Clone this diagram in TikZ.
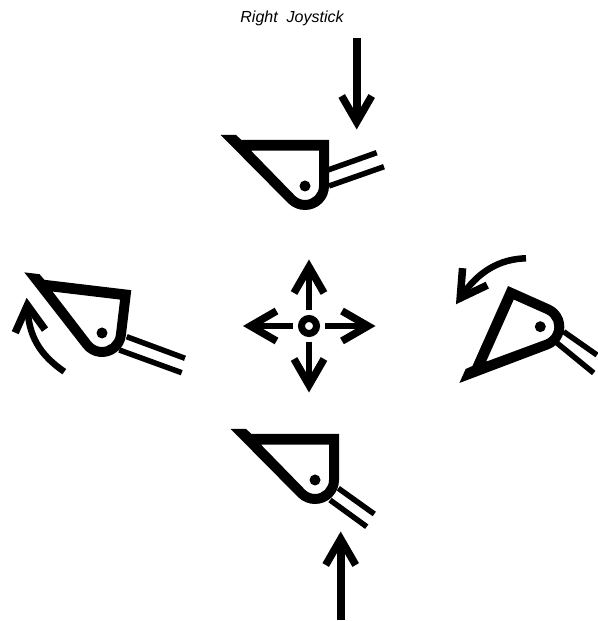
\documentclass[tikz,border=0pt]{standalone}
\usepackage{fontspec}
\setmainfont{Liberation Sans}
\usetikzlibrary{positioning}
\tikzset{
  sticklabel/.style={font=\itshape\fontsize{16}{19}\selectfont, inner sep=0pt},
  pivotdot/.style={circle, fill=black, minimum size=11pt, inner sep=0pt},
  shaft/.style={draw=black, line width=8pt},
  smallshaft/.style={draw=black, line width=6.5pt},
  handlebar/.style={draw=black, line width=5.5pt},
  hubring/.style={circle, draw=black, line width=7pt, minimum size=15pt, inner sep=0pt},
  bucket/.pic={
    \fill[black, even odd rule] (-84.3,51) -- (-69,51) -- (-63.5,46) -- (24,46) -- (24,0)
      arc[start angle=0, end angle=-134.7, radius=24pt] -- cycle
      (-54,35.3) -- (14,35.3) -- (14,0)
      arc[start angle=0, end angle=-135, radius=14pt] -- cycle;
  },
  chevron/.pic={
    \draw[black, line width=7.5pt, miter limit=10] (-26,15) -- (0,0) -- (-26,-15);
  }
}
\begin{document}
\begin{tikzpicture}[x=1pt, y=1pt]
\useasboundingbox (0,0) rectangle (597,621);

\node[sticklabel] (title) at (292,603) {Right\ \ Joystick};

% buckets
\node[pivotdot] (pivottop) at (305,435) {};
\node[pivotdot] (pivotleft) at (102,288) {};
\node[pivotdot] (pivotright) at (540.3,294.3) {};
\node[pivotdot] (pivotbottom) at (315,141) {};
\pic at (pivottop) {bucket};
\pic[rotate=-6.8] at (pivotleft) {bucket};
\pic[rotate=66] at (pivotright) {bucket};
\pic at (pivotbottom) {bucket};

% handles
\coordinate (topa) at (328,451);
\coordinate (topb) at (376.7,468.3);
\coordinate (topc) at (329,435);
\coordinate (topd) at (384,454.3);
\draw[handlebar] (topa) -- (topb);
\draw[handlebar] (topc) -- (topd);
\coordinate (lefta) at (126.7,284.3);
\coordinate (leftb) at (185,262.7);
\coordinate (leftc) at (119.3,271);
\coordinate (leftd) at (181.7,248.3);
\draw[handlebar] (lefta) -- (leftb);
\draw[handlebar] (leftc) -- (leftd);
\coordinate (righta) at (563.7,289.3);
\coordinate (rightb) at (597,266);
\coordinate (rightc) at (557,278);
\coordinate (rightd) at (593.7,248);
\draw[handlebar] (righta) -- (rightb);
\draw[handlebar] (rightc) -- (rightd);
\coordinate (bottoma) at (338.3,132.7);
\coordinate (bottomb) at (374.3,107);
\coordinate (bottomc) at (330,121);
\coordinate (bottomd) at (366.7,94.3);
\draw[handlebar] (bottoma) -- (bottomb);
\draw[handlebar] (bottomc) -- (bottomd);

% joystick arrows
\coordinate (pushstart) at (356.7,583);
\coordinate (pushend) at (356.7,499);
\draw[shaft] (pushstart) -- (pushend);
\pic[rotate=-90] at (pushend) {chevron};
\coordinate (pullstart) at (340.7,1);
\coordinate (pullend) at (340.7,82);
\draw[shaft] (pullstart) -- (pullend);
\pic[rotate=90] at (pullend) {chevron};

% centre cross
\node[hubring] (hub) at (309,295) {};
\coordinate (hubup) at (309,354);
\coordinate (hubdown) at (309,236);
\coordinate (hubleft) at (250.5,295);
\coordinate (hubright) at (368,295);
\draw[smallshaft] (309,311) -- (hubup);
\draw[smallshaft] (309,279) -- (hubdown);
\draw[smallshaft] (293,295) -- (hubleft);
\draw[smallshaft] (325,295) -- (hubright);
\pic[rotate=90] at (hubup) {chevron};
\pic[rotate=-90] at (hubdown) {chevron};
\pic[rotate=180] at (hubleft) {chevron};
\pic at (hubright) {chevron};

% curved arrows
\coordinate (liftstart) at (64.3,249.3);
\coordinate (liftend) at (27.4,315.7);
\draw[black, line width=6.5pt] (liftstart) .. controls (40,266) and (28,285) .. (liftend);
\pic[rotate=96] at (liftend) {chevron};
\coordinate (dropstart) at (526,362.7);
\coordinate (dropend) at (460.2,322.9);
\draw[black, line width=6.5pt] (dropstart) .. controls (500,362) and (478,350) .. (dropend);
\pic[rotate=-124.5] at (dropend) {chevron};
\end{tikzpicture}
\end{document}
